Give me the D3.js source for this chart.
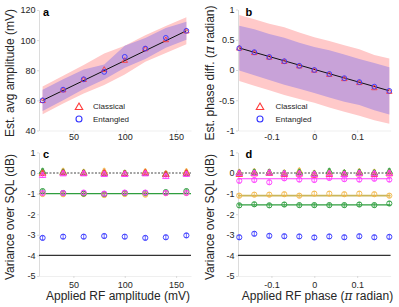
<!DOCTYPE html>
<html>
<head>
<meta charset="utf-8">
<script src="https://cdn.jsdelivr.net/npm/d3@7"></script>
<style>
  body { margin: 0; background: #fff; }
  svg { display: block; font-family: "Liberation Sans", Arial, sans-serif; }
</style>
</head>
<body>
<div id="chart"></div>
<script>
// applied RF settings
const ampX = [20, 40, 60, 80, 100, 120, 140, 160];
const phaseX = [-0.175, -0.14, -0.105, -0.07, -0.035, 0, 0.035, 0.07, 0.105, 0.14, 0.175];

// panel a : estimated amplitude (mV)
const ampClassicalMean = [60.0, 67.1, 74.0, 80.7, 86.7, 94.4, 100.4, 106.2];
const ampClassicalStd = [9.2, 9.2, 9.5, 10.5, 9.5, 8.8, 9.0, 9.0];
const ampEntangledMean = [60.0, 67.1, 74.0, 78.9, 88.9, 94.4, 101.5, 106.2];
const ampEntangledStd = [7.0, 7.0, 6.5, 5.0, 7.3, 7.0, 6.5, 6.0];
const ampFit = [53.4, 0.33]; // intercept, slope

// panel b : estimated phase difference (pi radian)
const phaseClassicalMean = [0.365, 0.29, 0.215, 0.145, 0.07, 0.0, -0.07, -0.14, -0.205, -0.29, -0.35];
const phaseClassicalStd = [0.545, 0.55, 0.55, 0.56, 0.55, 0.54, 0.55, 0.55, 0.55, 0.54, 0.54];
const phaseEntangledMean = [0.36, 0.295, 0.215, 0.145, 0.07, 0.0, -0.065, -0.135, -0.2, -0.275, -0.345];
const phaseEntangledStd = [0.37, 0.38, 0.38, 0.39, 0.38, 0.38, 0.39, 0.39, 0.38, 0.39, 0.39];
const phaseFit = [0.01, -2.02];

// panel c : variance over SQL (dB) vs amplitude
const cTriRed = [0.0, 0.02, 0.0, 0.02, -0.02, 0.03, -0.05, 0.02];
const cTriOrange = [0.05, 0.1, 0.05, 0.1, 0.0, 0.08, -0.02, 0.08];
const cTriGreen = [0.1, 0.05, 0.02, 0.0, 0.0, 0.0, -0.05, 0.0];
const cTriMagenta = [-0.1, -0.02, -0.02, -0.05, -0.05, -0.02, -0.15, -0.05];
const cCircGreen = [-0.88, -0.97, -1.0, -1.02, -0.97, -0.97, -0.93, -0.88];
const cCircOrange = [-1.02, -1.03, -1.02, -1.07, -1.02, -1.05, -0.98, -0.97];
const cCircMagenta = [-0.97, -0.97, -0.95, -1.0, -0.95, -0.95, -0.97, -0.97];
const cCircBlue = [-3.15, -3.09, -3.09, -3.06, -3.09, -3.15, -3.12, -3.03];
const cLines = [0, -1, -4];

// panel d : variance over SQL (dB) vs phase
const dTriRed = [-0.05, -0.02, 0.0, -0.05, -0.03, -0.08, -0.05, -0.05, -0.02, -0.05, -0.02];
const dTriOrange = [0.05, 0.08, 0.05, 0.02, 0.12, 0.0, 0.05, 0.02, 0.08, 0.05, 0.05];
const dTriGreen = [0.02, 0.05, 0.05, 0.0, 0.05, -0.02, 0.1, 0.02, 0.05, 0.02, 0.1];
const dTriMagenta = [0.0, 0.0, 0.02, -0.02, -0.02, -0.05, -0.02, -0.05, 0.0, -0.02, 0.0];
const dCircMagenta = [-0.38, -0.34, -0.45, -0.26, -0.32, -0.34, -0.24, -0.3, -0.32, -0.28, -0.32];
const dCircOrange = [-1.1, -1.05, -1.05, -1.03, -1.1, -1.0, -1.0, -1.03, -1.0, -1.03, -1.1];
const dCircGreen = [-1.57, -1.52, -1.57, -1.53, -1.56, -1.56, -1.56, -1.56, -1.53, -1.56, -1.48];
const dCircBlue = [-3.12, -2.95, -3.05, -3.07, -3.08, -3.13, -3.08, -3.12, -3.07, -3.12, -3.10];
const dLines = [0, -0.28, -1.1, -1.55, -4];

const errBar = 0.1;

// tick values
const ampTicks = [50, 100, 150];
const phaseTicks = [-0.1, 0, 0.1];
const aYTicks = [40, 60, 80, 100, 120];
const bYTicks = [-1, -0.5, 0, 0.5, 1];
const cdYTicks = [-5, -4, -3, -2, -1, 0, 1];

// colours
var col = {
  red: '#ff3b3b', blue: '#3535ff', orange: '#f2b84b', green: '#2e9e3e',
  magenta: '#ff3cff', pink: '#ffc9c9', purple: '#c8a2d8', text: '#262626', axis: '#c4c4c4'
};

var width = 399, height = 307;
var svg = d3.select('#chart').append('svg')
  .attr('width', width)
  .attr('height', height);

//scales
var xAmp = d3.scaleLinear().domain([16.5, 164.5]).range([39, 191]);
var xPhase = d3.scaleLinear().domain([-0.178, 0.178]).range([238, 390.6]);
var yA = d3.scaleLinear().domain([40, 120]).range([130.5, 10]);
var yB = d3.scaleLinear().domain([-1, 1]).range([130.5, 9.5]);
var yC = d3.scaleLinear().domain([-5, 1]).range([276, 152.4]);

var fmt = function(d) { return String(d); };

function drawAxes(x, y, xTicks, yTicks, xPad) {
  var gx = svg.append('g')
    .attr('transform', 'translate(0,' + y.range()[0] + ')')
    .call(d3.axisBottom(x).tickValues(xTicks).tickFormat(fmt).tickSize(2).tickSizeOuter(0).tickPadding(xPad));
  var gy = svg.append('g')
    .attr('transform', 'translate(' + x.range()[0] + ',0)')
    .call(d3.axisLeft(y).tickValues(yTicks).tickFormat(fmt).tickSize(2).tickSizeOuter(0).tickPadding(1.5));
  [gx, gy].forEach(function(g) {
    g.selectAll('text').attr('fill', col.text).style('font-size', '9px').style('font-family', '"Liberation Sans", Arial, sans-serif');
    g.selectAll('line').attr('stroke', col.axis).attr('stroke-width', 0.6);
  });
  gx.select('.domain').attr('stroke', '#e4e4e4').attr('stroke-width', 0.6);
  gy.select('.domain').attr('stroke', col.axis).attr('stroke-width', 0.6);
}

function band(x, y, xs, mean, std, fill) {
  var area = d3.area()
    .x(function(d, i) { return x(xs[i]); })
    .y0(function(d, i) { return y(mean[i] - std[i]); })
    .y1(function(d, i) { return y(mean[i] + std[i]); });
  svg.append('path').attr('d', area(mean)).attr('fill', fill);
}

function fitLine(x, y, xs, fit) {
  var pts = [xs[0], xs[xs.length - 1]].map(function(v) { return [x(v), y(fit[0] + fit[1] * v)]; });
  svg.append('path').attr('d', d3.line()(pts)).attr('stroke', '#111').attr('stroke-width', 1).attr('fill', 'none');
}

function hLines(x, y, vals, colors, dashes, widths) {
  vals.forEach(function(v, i) {
    svg.append('line')
      .attr('x1', x.range()[0]).attr('x2', x.range()[1])
      .attr('y1', y(v)).attr('y2', y(v))
      .attr('stroke', colors[i]).attr('stroke-width', widths[i])
      .attr('stroke-dasharray', dashes[i]);
  });
}

function triangles(x, y, xs, vals, color, size, err) {
  var g = svg.append('g');
  if (err) errorBars(g, x, y, xs, vals, color);
  g.selectAll('path.tri').data(vals).join('path')
    .attr('class', 'tri')
    .attr('d', d3.symbol(d3.symbolTriangle, size))
    .attr('transform', function(d, i) { return 'translate(' + x(xs[i]) + ',' + (y(d) + 0.6) + ')'; })
    .attr('fill', 'none').attr('stroke', color).attr('stroke-width', 0.9);
}

function circles(x, y, xs, vals, color, r, err) {
  var g = svg.append('g');
  if (err) errorBars(g, x, y, xs, vals, color);
  g.selectAll('circle').data(vals).join('circle')
    .attr('cx', function(d, i) { return x(xs[i]); })
    .attr('cy', function(d) { return y(d); })
    .attr('r', r)
    .attr('fill', 'none').attr('stroke', color).attr('stroke-width', 0.9);
}

function errorBars(g, x, y, xs, vals, color) {
  vals.forEach(function(v, i) {
    var cx = x(xs[i]), y0 = y(v - errBar), y1 = y(v + errBar);
    g.append('path')
      .attr('d', 'M' + cx + ',' + y0 + 'V' + y1 + 'M' + (cx - 1.5) + ',' + y0 + 'H' + (cx + 1.5) + 'M' + (cx - 1.5) + ',' + y1 + 'H' + (cx + 1.5))
      .attr('stroke', color).attr('stroke-width', 0.7).attr('fill', 'none');
  });
}

function legend(lx, ly, tx) {
  svg.append('path').attr('d', d3.symbol(d3.symbolTriangle, 24)())
    .attr('transform', 'translate(' + lx + ',' + (ly + 0.8) + ')')
    .attr('fill', 'none').attr('stroke', col.red).attr('stroke-width', 1.1);
  svg.append('circle').attr('cx', lx).attr('cy', ly + 12.5).attr('r', 3)
    .attr('fill', 'none').attr('stroke', col.blue).attr('stroke-width', 1.1);
  svg.append('text').attr('x', tx).attr('y', ly).attr('dy', '0.35em')
    .attr('fill', col.text).style('font-size', '8px').text('Classical');
  svg.append('text').attr('x', tx).attr('y', ly + 12.5).attr('dy', '0.35em')
    .attr('fill', col.text).style('font-size', '8px').text('Entangled');
}

function panelLabel(x, y, t) {
  svg.append('text').attr('x', x).attr('y', y).attr('fill', '#000')
    .style('font-size', '11px').style('font-weight', 'bold').text(t);
}

function yLabel(x, y, t) {
  var txt = svg.append('text')
    .attr('transform', 'translate(' + x + ',' + y + ') rotate(-90)')
    .attr('text-anchor', 'middle').attr('dy', '0.35em')
    .attr('fill', col.text).style('font-size', '12px');
  return txt;
}

////////////////////
///// PANEL a //////
////////////////////
band(xAmp, yA, ampX, ampClassicalMean, ampClassicalStd, col.pink);
band(xAmp, yA, ampX, ampEntangledMean, ampEntangledStd, col.purple);
drawAxes(xAmp, yA, ampTicks, aYTicks, 1.5);
fitLine(xAmp, yA, ampX, ampFit);
triangles(xAmp, yA, ampX, ampClassicalMean, col.red, 13, false);
circles(xAmp, yA, ampX, ampEntangledMean, col.blue, 2.4, false);
legend(79, 106.5, 93);
panelLabel(43, 16, 'a');
yLabel(10, 73).text('Est. avg amplitude (mV)');

////////////////////
///// PANEL b //////
////////////////////
band(xPhase, yB, phaseX, phaseClassicalMean, phaseClassicalStd, col.pink);
band(xPhase, yB, phaseX, phaseEntangledMean, phaseEntangledStd, col.purple);
drawAxes(xPhase, yB, phaseTicks, bYTicks, 1.5);
fitLine(xPhase, yB, phaseX, phaseFit);
triangles(xPhase, yB, phaseX, phaseClassicalMean, col.red, 13, false);
circles(xPhase, yB, phaseX, phaseEntangledMean, col.blue, 2.4, false);
legend(260, 106.5, 275.5);
panelLabel(245.5, 16, 'b');
var lb = yLabel(210, 73);
lb.append('tspan').text('Est. phase diff. (');
lb.append('tspan').style('font-style', 'italic').style('font-family', '"DejaVu Serif", serif').text('π');
lb.append('tspan').text(' radian)');

////////////////////
///// PANEL c //////
////////////////////
drawAxes(xAmp, yC, ampTicks, cdYTicks, 3.5);
hLines(xAmp, yC, cLines, ['#333', col.green, '#333'], ['2,1.5', null, null], [0.9, 1.2, 1.2]);
circles(xAmp, yC, ampX, cCircOrange, col.orange, 2.6, true);
circles(xAmp, yC, ampX, cCircGreen, col.green, 2.6, true);
circles(xAmp, yC, ampX, cCircMagenta, col.magenta, 2.6, true);
circles(xAmp, yC, ampX, cCircBlue, col.blue, 2.6, true);
triangles(xAmp, yC, ampX, cTriOrange, col.orange, 18, true);
triangles(xAmp, yC, ampX, cTriGreen, col.green, 18, true);
triangles(xAmp, yC, ampX, cTriRed, col.red, 18, true);
triangles(xAmp, yC, ampX, cTriMagenta, col.magenta, 18, true);
panelLabel(43, 158, 'c');
yLabel(9.5, 217).text('Variance over SQL (dB)');
svg.append('text').attr('x', 118).attr('y', 296).attr('dy', '0.35em').attr('text-anchor', 'middle')
  .attr('fill', col.text).style('font-size', '12px').text('Applied RF amplitude (mV)');

////////////////////
///// PANEL d //////
////////////////////
drawAxes(xPhase, yC, phaseTicks, cdYTicks, 3.5);
hLines(xPhase, yC, dLines, ['#333', col.magenta, '#c9b65a', col.green, '#333'], ['2,1.5', null, null, null, null], [0.9, 1.2, 1.8, 1.2, 1.2]);
circles(xPhase, yC, phaseX, dCircMagenta, col.magenta, 2.6, true);
circles(xPhase, yC, phaseX, dCircOrange, col.orange, 2.6, true);
circles(xPhase, yC, phaseX, dCircGreen, col.green, 2.6, true);
circles(xPhase, yC, phaseX, dCircBlue, col.blue, 2.6, true);
triangles(xPhase, yC, phaseX, dTriOrange, col.orange, 18, true);
triangles(xPhase, yC, phaseX, dTriGreen, col.green, 18, true);
triangles(xPhase, yC, phaseX, dTriRed, col.red, 18, true);
triangles(xPhase, yC, phaseX, dTriMagenta, col.magenta, 18, true);
panelLabel(245.5, 158, 'd');
yLabel(209.5, 217).text('Variance over SQL (dB)');
var xd = svg.append('text').attr('x', 317.5).attr('y', 296).attr('dy', '0.35em').attr('text-anchor', 'middle')
  .attr('fill', col.text).style('font-size', '12px');
xd.append('tspan').text('Applied RF phase (');
xd.append('tspan').style('font-style', 'italic').style('font-family', '"DejaVu Serif", serif').text('π');
xd.append('tspan').text(' radian)');
</script>
</body>
</html>
